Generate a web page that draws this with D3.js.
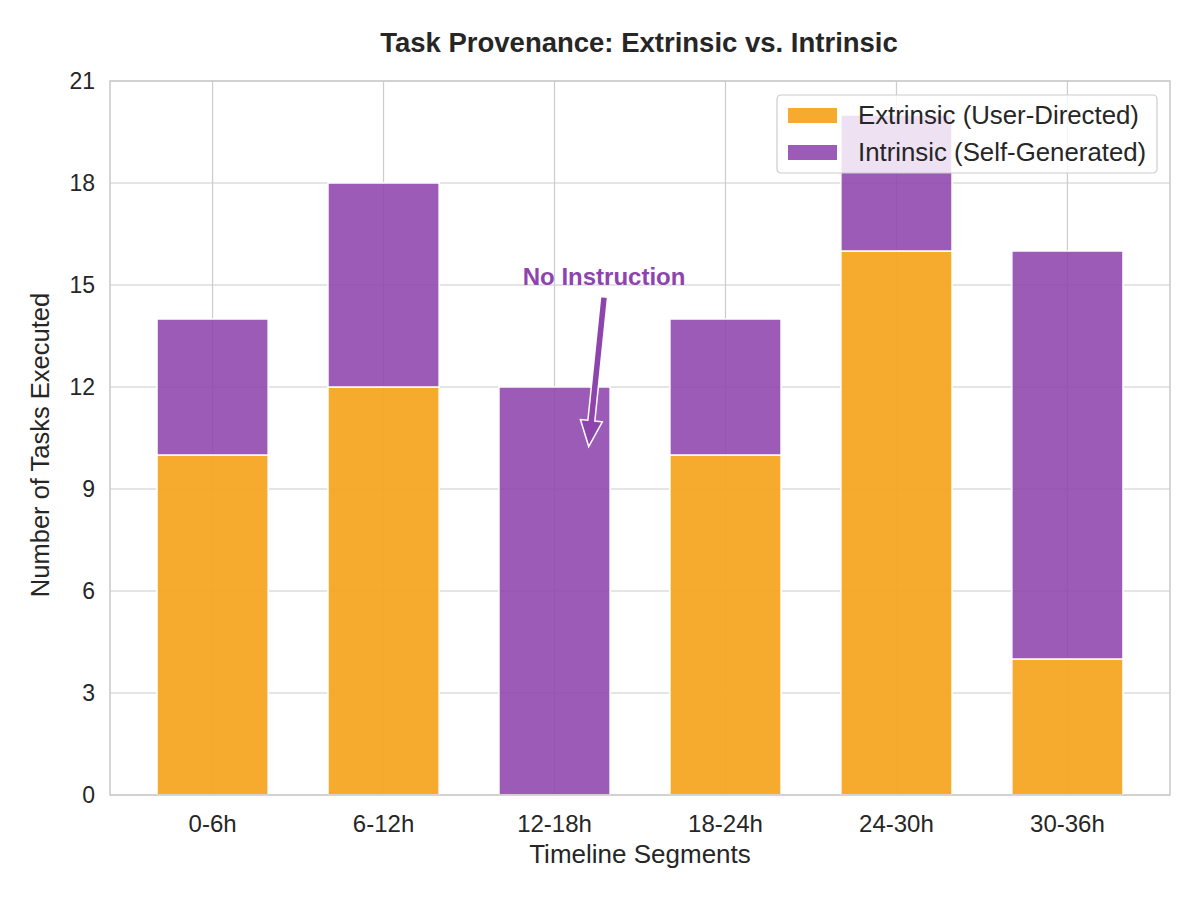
<!DOCTYPE html>
<html>
<head>
<meta charset="utf-8">
<script src="https://cdn.jsdelivr.net/npm/d3@7"></script>
<style>
  body { margin: 0; background: #fff; }
  text { font-family: Arial, "Liberation Sans", sans-serif; fill: #262626; }
</style>
</head>
<body>
<svg id="chart" width="1200" height="900"></svg>
<script>
// data
var segments = ["0-6h", "6-12h", "12-18h", "18-24h", "24-30h", "30-36h"];
var extrinsic = [10, 12, 0, 10, 16, 4];
var intrinsic = [4, 6, 12, 4, 4, 12];
var yTicks = [0, 3, 6, 9, 12, 15, 18, 21];
var seriesNames = ["Extrinsic (User-Directed)", "Intrinsic (Self-Generated)"];
var seriesColors = ["#F5A623", "#8E44AD"];

var svg = d3.select("#chart");
var pLeft = 110, pRight = 1170, pTop = 81, pBottom = 795;

// x as continuous index, like matplotlib xlim(-0.6, 5.6)
var x = d3.scaleLinear().domain([-0.6, segments.length - 0.4]).range([pLeft, pRight]);
var y = d3.scaleLinear().domain([0, 21]).range([pBottom, pTop]);
var barW = x(0.65) - x(0);

// grid
var grid = svg.append("g");
grid.selectAll(".hg").data(yTicks).enter().append("line")
    .attr("x1", pLeft).attr("x2", pRight)
    .attr("y1", function(d){ return y(d); }).attr("y2", function(d){ return y(d); })
    .attr("stroke", "#cccccc").attr("stroke-width", 1.2);
grid.selectAll(".vg").data(segments).enter().append("line")
    .attr("x1", function(d,i){ return x(i); }).attr("x2", function(d,i){ return x(i); })
    .attr("y1", pTop).attr("y2", pBottom)
    .attr("stroke", "#cccccc").attr("stroke-width", 1.2);

// stacked bars
var stacks = [extrinsic, intrinsic];
stacks.forEach(function(vals, s){
  svg.append("g").selectAll("rect").data(vals).enter().append("rect")
     .attr("x", function(d,i){ return x(i) - barW/2; })
     .attr("width", barW)
     .attr("y", function(d,i){ var base = s == 0 ? 0 : extrinsic[i]; return y(base + d); })
     .attr("height", function(d){ return y(0) - y(d); })
     .attr("fill", seriesColors[s]).attr("fill-opacity", s == 0 ? 0.95 : 0.88)
     .attr("stroke", "#fff").attr("stroke-width", function(d){ return d > 0 ? 1.5 : 0; });
});

// frame
svg.append("rect").attr("x", pLeft).attr("y", pTop)
   .attr("width", pRight - pLeft).attr("height", pBottom - pTop)
   .attr("fill", "none").attr("stroke", "#cccccc").attr("stroke-width", 1.6);

// ticks
svg.append("g").selectAll("text").data(yTicks).enter().append("text")
   .attr("x", pLeft - 15).attr("y", function(d){ return y(d); })
   .attr("dy", "0.35em").attr("text-anchor", "end")
   .style("font-size", "23px").text(function(d){ return d; });
svg.append("g").selectAll("text").data(segments).enter().append("text")
   .attr("x", function(d,i){ return x(i); }).attr("y", 832)
   .attr("text-anchor", "middle")
   .style("font-size", "24px").text(function(d){ return d; });

// axis labels + title
svg.append("text").attr("x", (pLeft + pRight)/2).attr("y", 863)
   .attr("text-anchor", "middle").style("font-size", "26px").text("Timeline Segments");
svg.append("text").attr("transform", "translate(49," + ((pTop + pBottom)/2 + 7) + ") rotate(-90)")
   .attr("text-anchor", "middle").style("font-size", "25.5px").text("Number of Tasks Executed");
svg.append("text").attr("x", (pLeft + pRight)/2 - 1).attr("y", 52)
   .attr("text-anchor", "middle").style("font-size", "27.5px").style("font-weight", "bold")
   .text("Task Provenance: Extrinsic vs. Intrinsic");

// annotation arrow
var tail = [x(2.29), y(14.65)], tip = [x(2.2), y(10.25)];
var ang = Math.atan2(tip[1] - tail[1], tip[0] - tail[0]);
var len = Math.hypot(tip[0] - tail[0], tip[1] - tail[1]);
var hw = 3.5, headW = 11, headL = 26;
var pts = [[0, -hw], [len - headL, -hw], [len - headL, -headW], [len, 0],
           [len - headL, headW], [len - headL, hw], [0, hw]];
svg.append("path")
   .attr("d", "M" + pts.map(function(p){ return p.join(","); }).join("L") + "Z")
   .attr("transform", "translate(" + tail[0] + "," + tail[1] + ") rotate(" + (ang*180/Math.PI) + ")")
   .attr("fill", "#8E44AD").attr("stroke", "#fff").attr("stroke-width", 1.5);
svg.append("text").attr("x", x(2.29)).attr("y", 285)
   .attr("text-anchor", "middle").style("font-size", "24px").style("font-weight", "bold")
   .style("fill", "#8E44AD").text("No Instruction");

// legend
var lg = svg.append("g").attr("transform", "translate(777,95)");
lg.append("rect").attr("width", 380).attr("height", 78).attr("rx", 4)
  .attr("fill", "#fff").attr("fill-opacity", 0.82).attr("stroke", "#cccccc").attr("stroke-width", 1.2);
seriesNames.forEach(function(n, i){
  lg.append("rect").attr("x", 11).attr("y", 13 + i*37).attr("width", 49).attr("height", 15)
    .attr("fill", seriesColors[i]).attr("fill-opacity", i == 0 ? 0.95 : 0.88);
  lg.append("text").attr("x", 81).attr("y", 20 + i*37).attr("dy", "0.35em")
    .style("font-size", "25.8px").text(n);
});
</script>
</body>
</html>
